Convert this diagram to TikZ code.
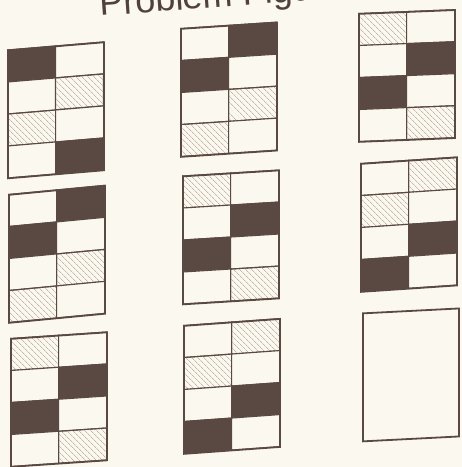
\documentclass[tikz,border=0pt]{standalone}
\usepackage{fontspec}
\setmainfont{Liberation Sans}
\usetikzlibrary{patterns.meta}
\definecolor{paper}{HTML}{FBF8EF}
\definecolor{ink}{HTML}{5A4843}
\definecolor{hatch}{HTML}{C4B7AE}
\begin{document}
\begin{tikzpicture}[x=1pt, y=-1pt,
        cell/.style={draw=ink, line width=1.1pt, minimum width=48pt, minimum height=32pt, inner sep=0pt, anchor=north west, transform shape},
        blk/.style={fill=ink},
        wht/.style={fill=paper},
        hat/.style={pattern={Lines[angle=-45, distance=4pt, line width=0.7pt]}, pattern color=hatch},
        frame/.style={draw=ink, line width=1.8pt, minimum width=96pt, minimum height=128pt, inner sep=0pt, anchor=north west, transform shape},
        title/.style={font=\fontsize{36}{40}\selectfont, text=ink!90!black, inner sep=0pt, anchor=base west}
    ]
    \useasboundingbox (0,0) rectangle (462,467);
    \fill[paper] (0,0) rectangle (462,467);
    \node[title, rotate=4.2] (title) at (100,16) {Problem Figures};

    \foreach \n/\x/\y/\s/\cells in {
        p1/7/49.5/0.084/{blk,wht,wht,hat,hat,wht,wht,blk},
        p2/180/28/0.066/{wht,blk,blk,wht,wht,hat,hat,wht},
        p3/358/13/0.04/{hat,wht,wht,blk,blk,wht,wht,hat},
        p4/8/194/0.095/{wht,blk,blk,wht,wht,hat,hat,wht},
        p5/182/175.5/0.062/{hat,wht,wht,blk,blk,wht,wht,hat},
        p6/360/163/0.067/{wht,hat,hat,wht,wht,blk,blk,wht},
        p7/10/338/0.068/{hat,wht,wht,blk,blk,wht,wht,hat},
        p8/183/325/0.072/{wht,hat,hat,wht,wht,blk,blk,wht}} {
        \begin{scope}[shift={(\x,\y)}, yslant=\s]
            \foreach \kind [count=\k from 0] in \cells {
                \pgfmathtruncatemacro{\col}{mod(\k,2)}
                \pgfmathtruncatemacro{\row}{floor(\k/2)}
                \node[cell, \kind] (\n-\row\col) at (\col*48, \row*32) {};
            }
            \node[frame] (\n) at (0,0) {};
        \end{scope}
    }
    \begin{scope}[shift={(362,312.5)}, yslant=0.051]
        \node[frame] (p9) at (0,0) {};
    \end{scope}

\end{tikzpicture}
\end{document}
